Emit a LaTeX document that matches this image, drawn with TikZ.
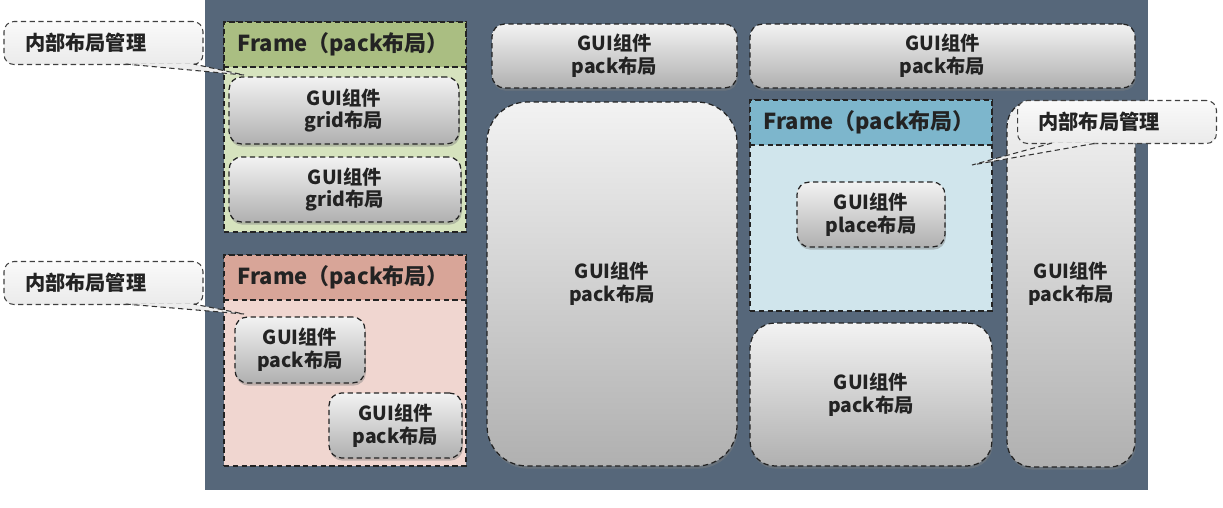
\documentclass[tikz,border=0pt]{standalone}
\usepackage{fontspec}
\setmainfont{Noto Sans CJK SC}
\usetikzlibrary{shadows,calc}

\definecolor{panelblue}{RGB}{86,103,122}
\definecolor{greenhead}{RGB}{170,190,130}
\definecolor{greenbody}{RGB}{214,227,190}
\definecolor{pinkhead}{RGB}{216,165,152}
\definecolor{pinkbody}{RGB}{240,214,208}
\definecolor{bluehead}{RGB}{125,182,204}
\definecolor{bluebody}{RGB}{208,229,236}
\definecolor{inkgray}{RGB}{35,35,35}

\tikzset{
    guibox/.style={draw=inkgray, densely dashed, line width=0.7pt, rounded corners=0.25cm,
        top color=gray!10, bottom color=gray!62,
        drop shadow={shadow xshift=0.5pt, shadow yshift=-1.5pt, opacity=0.45},
        align=center, text=inkgray,
        font=\bfseries\fontsize{11}{13}\selectfont},
    framebody/.style={draw=inkgray, densely dashed, line width=0.7pt, minimum width=4.84cm},
    framehead/.style={draw=inkgray, densely dashed, line width=0.7pt, minimum width=4.84cm,
        minimum height=0.9cm, inner xsep=0.27cm, text width=4.3cm, align=left,
        text=inkgray, font=\bfseries\fontsize{12.5}{14}\selectfont},
    callbox/.style={draw=gray!50!black, densely dashed, line width=0.6pt, rounded corners=0.2cm,
        top color=gray!4, bottom color=gray!16,
        minimum width=3.98cm, minimum height=0.86cm, inner xsep=0.42cm,
        text width=3.14cm, align=left, text=inkgray,
        font=\bfseries\fontsize{11.5}{13}\selectfont},
    calltail/.style={fill=gray!14, draw=gray!40!black, densely dashed, line width=0.6pt},
}

\begin{document}
\begin{tikzpicture}[x=0.02cm, y=-0.02cm]
    \useasboundingbox (0,0) rectangle (1223,507);

    % main window
    \node[fill=panelblue, minimum width=18.86cm, minimum height=9.8cm, inner sep=0pt] (root) at (676.5,245) {};

    % green frame, grid inside
    \node[framebody, fill=greenbody, minimum height=4.2cm] (fgreen) at (345,127) {};
    \node[framehead, fill=greenhead, anchor=north] (fgreenhd) at (fgreen.north) {Frame（pack布局）};
    \node[guibox, minimum width=4.6cm, minimum height=1.34cm] (grid1) at (344,110.5) {GUI组件\\grid布局};
    \node[guibox, minimum width=4.64cm, minimum height=1.3cm] (grid2) at (345,189.5) {GUI组件\\grid布局};

    % pink frame, pack inside
    \node[framebody, fill=pinkbody, minimum height=4.22cm] (fpink) at (345,360.5) {};
    \node[framehead, fill=pinkhead, anchor=north] (fpinkhd) at (fpink.north) {Frame（pack布局）};
    \node[guibox, minimum width=2.6cm, minimum height=1.32cm] (pack1) at (300,350) {GUI组件\\pack布局};
    \node[guibox, minimum width=2.66cm, minimum height=1.3cm] (pack2) at (395.5,425.5) {GUI组件\\pack布局};

    % widgets packed in the window
    \node[guibox, minimum width=4.9cm, minimum height=1.28cm] (top1) at (614.5,56) {GUI组件\\pack布局};
    \node[guibox, minimum width=7.7cm, minimum height=1.28cm] (top2) at (942.5,56) {GUI组件\\pack布局};
    \node[guibox, rounded corners=0.8cm, minimum width=5cm, minimum height=7.28cm] (mid) at (612,284) {GUI组件\\pack布局};
    \node[guibox, rounded corners=0.5cm, minimum width=4.84cm, minimum height=2.86cm] (bottom) at (871,394.5) {GUI组件\\pack布局};
    \node[guibox, rounded corners=0.5cm, minimum width=2.56cm, minimum height=7.32cm] (tall) at (1071,284) {GUI组件\\pack布局};

    % blue frame, place inside
    \node[framebody, fill=bluebody, minimum height=4.22cm] (fblue) at (871,205.5) {};
    \node[framehead, fill=bluehead, anchor=north] (fbluehd) at (fblue.north) {Frame（pack布局）};
    \node[guibox, minimum width=2.96cm, minimum height=1.3cm] (place1) at (871,214.5) {GUI组件\\place布局};

    % callouts
    \coordinate (tip1) at (244,75);
    \coordinate (tip2) at (244,314);
    \coordinate (tip3) at (972,165);

    \node[callbox] (call1) at (103.5,43) {内部布局管理};
    \node[callbox] (call2) at (103.5,283) {内部布局管理};
    \node[callbox] (call3) at (1117,122) {内部布局管理};

    \draw[calltail] ($(call1.south east)+(-78,-1)$) -- (tip1) -- ($(call1.south east)+(-10,-1)$);
    \draw[calltail] ($(call2.south east)+(-78,-1)$) -- (tip2) -- ($(call2.south east)+(-10,-1)$);
    \draw[calltail] ($(call3.south west)+(35,-1)$) -- (tip3) -- ($(call3.south west)+(80,-1)$);

\end{tikzpicture}
\end{document}
